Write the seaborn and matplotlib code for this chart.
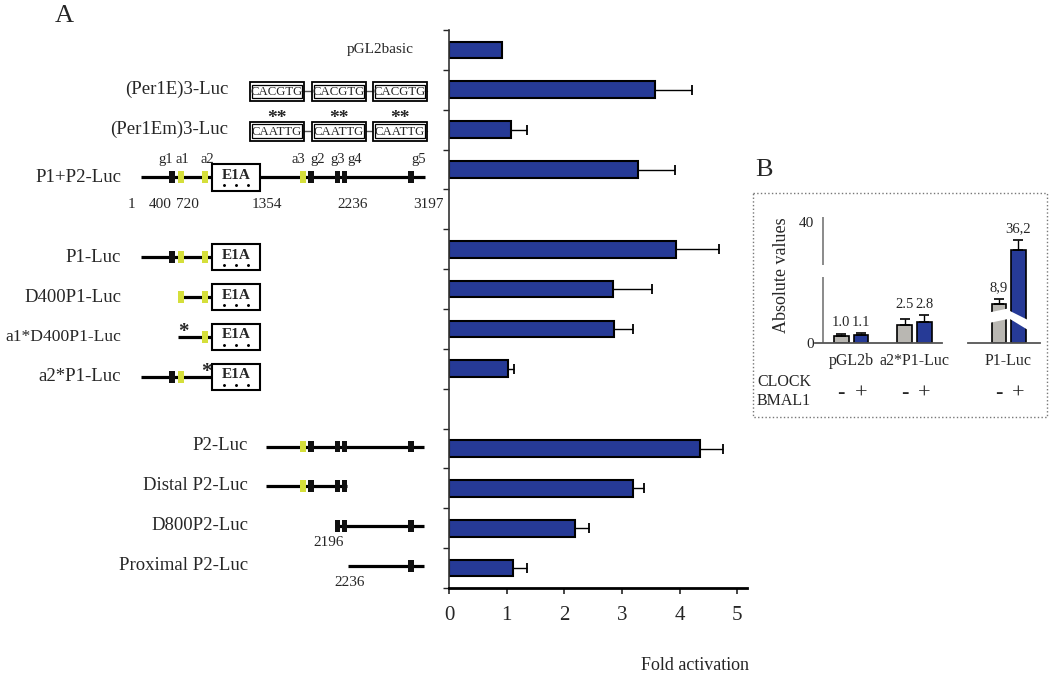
import numpy as np
import pandas as pd
import matplotlib
matplotlib.use("Agg")
import matplotlib.pyplot as plt
import matplotlib.patches as mpatches
from matplotlib.transforms import Affine2D
import seaborn as sns

# ---------------- panel A data ----------------
constructs = ["pGL2basic", "(Per1E)3-Luc", "(Per1Em)3-Luc", "P1+P2-Luc",
              "P1-Luc", "D400P1-Luc", "a1*D400P1-Luc", "a2*P1-Luc",
              "P2-Luc", "Distal P2-Luc", "D800P2-Luc", "Proximal P2-Luc"]
fold = [0.92, 3.58, 1.07, 3.28, 3.94, 2.85, 2.86, 1.02, 4.35, 3.19, 2.18, 1.11]
fold_err = [0.0, 0.64, 0.29, 0.64, 0.74, 0.67, 0.33, 0.11, 0.41, 0.20, 0.25, 0.24]
fold_ticks = [0, 1, 2, 3, 4, 5]
# two empty rows split the constructs into groups
row_order = constructs[:4] + ["gap1"] + constructs[4:8] + ["gap2"] + constructs[8:]

# promoter maps: line span, exon boxes (g), E-box elements (a), E1A reporter
G_X = {"g1": 172, "g2": 311, "g3": 337.5, "g4": 344.5, "g5": 411}
A_X = {"a1": 181, "a2": 205, "a3": 303}
E1A_SPAN = (212, 260)
maps = {
    "P1+P2-Luc": ((141, 425), ["g1", "g2", "g3", "g4", "g5"], ["a1", "a2", "a3"], True),
    "P1-Luc": ((141, 212), ["g1"], ["a1", "a2"], True),
    "D400P1-Luc": ((178, 212), [], ["a1", "a2"], True),
    "a1*D400P1-Luc": ((178, 212), [], ["a2"], True),
    "a2*P1-Luc": ((141, 212), ["g1"], ["a1"], True),
    "P2-Luc": ((266, 424), ["g2", "g3", "g4", "g5"], ["a3"], False),
    "Distal P2-Luc": ((266, 347), ["g2", "g3", "g4"], ["a3"], False),
    "D800P2-Luc": ((335, 424), ["g3", "g4", "g5"], [], False),
    "Proximal P2-Luc": ((348, 424), ["g5"], [], False),
}
mutated = {"a1*D400P1-Luc": 183, "a2*P1-Luc": 206}
ebox_seq = {"(Per1E)3-Luc": "CACGTG", "(Per1Em)3-Luc": "CAATTG"}
ebox_x = [277, 338.5, 400]
tag_labels = [("g1", 166), ("a1", 182), ("a2", 207), ("a3", 298),
              ("g2", 318), ("g3", 338), ("g4", 355), ("g5", 419)]
coord_labels = [("1", 131), ("400", 160), ("720", 187), ("1354", 267),
                ("2236", 353), ("3197", 428)]
start_labels = {"D800P2-Luc": ("2196", 329), "Proximal P2-Luc": ("2236", 350)}

# ---------------- panel B data ----------------
b_constructs = ["pGL2b", "pGL2b", "a2*P1-Luc", "a2*P1-Luc", "P1-Luc", "P1-Luc"]
b_clock = ["-", "+", "-", "+", "-", "+"]
b_values = [1.0, 1.1, 2.5, 2.8, 8.9, 36.2]
b_err = [0.3, 0.3, 0.75, 1.0, 2.5, 1.4]
b_labels = ["1.0", "1.1", "2.5", "2.8", "8,9", "36,2"]
b_yticks = [0, 40]

BLUE = "#263a96"
GRAY = "#b9b7b2"
YELLOW = "#d5df3b"

sns.set_style("white")
plt.rcParams["font.family"] = ["Liberation Serif", "DejaVu Serif"]

W, H = 1050, 674
fig = plt.figure(figsize=(W / 100, H / 100), dpi=100)


def fx(x):
    return x / W


def fy(y):
    return 1 - y / H


px = Affine2D().scale(1 / W, -1 / H).translate(0, 1) + fig.transFigure

# ---------------- panel A bars ----------------
ax = fig.add_axes([fx(449), fy(588), fx(747) - fx(449), fy(30) - fy(588)])
df_a = pd.DataFrame({"construct": constructs, "fold": fold, "err": fold_err})
sns.barplot(data=df_a, x="fold", y="construct", order=row_order, orient="h",
            color=BLUE, saturation=1, edgecolor="black", linewidth=1.5,
            width=0.42, ax=ax)
for name, v, e in zip(constructs, fold, fold_err):
    if e > 0:
        ax.errorbar(v, row_order.index(name), xerr=[[0], [e]], fmt="none",
                    ecolor="black", elinewidth=1, capsize=3.5, capthick=1.3)
ax.set_xlim(0, 5.17)
ax.set_yticks(np.arange(-0.5, len(row_order)))
ax.set_yticklabels([])
ax.set_ylim(len(row_order) - 0.5, -0.5)
ax.set_xticks(fold_ticks)
ax.set_xlabel("")
ax.set_ylabel("")
ax.tick_params(axis="y", length=4, width=1, direction="out", left=True)
ax.tick_params(axis="x", length=4, width=1.2, direction="out", bottom=True,
               labelsize=15, pad=9)
for s in ["top", "right"]:
    ax.spines[s].set_visible(False)
ax.spines["left"].set_linewidth(1.2)
ax.spines["left"].set_color("#333333")
ax.spines["bottom"].set_linewidth(2)
ax.spines["bottom"].set_color("black")
fig.text(fx(695), fy(665), "Fold activation", ha="center", va="center", fontsize=13)

# ---------------- panel A construct maps ----------------
axd = fig.add_axes([0, fy(588), fx(449), fy(30) - fy(588)])
axd.set_xlim(0, 449)
axd.set_ylim(len(row_order) - 0.5, -0.5)
axd.axis("off")

for name in constructs:
    r = row_order.index(name)
    if name == "pGL2basic":
        axd.text(380, r, name, ha="center", va="center", fontsize=11)
        continue
    if name in ebox_seq:
        axd.text(228, r, name, ha="right", va="center", fontsize=13.5)
        yb = r + 0.04
        axd.plot([250, 427], [yb, yb], color="#555555", lw=1, zorder=1)
        for cx in ebox_x:
            axd.add_patch(mpatches.Rectangle((cx - 27, yb - 0.235), 54, 0.47,
                                             fc="white", ec="black", lw=1.3, zorder=2))
            axd.add_patch(mpatches.Rectangle((cx - 25, yb - 0.17), 50, 0.34,
                                             fc="none", ec="black", lw=0.9, zorder=3))
            axd.text(cx, yb + 0.01, ebox_seq[name], ha="center", va="center",
                     fontsize=9.2, zorder=4)
            if name == "(Per1Em)3-Luc":
                axd.text(cx, r - 0.27, "**", ha="center", va="center",
                         fontsize=14, fontweight="bold")
        continue
    in_p1 = 3 <= r <= 8
    if in_p1:
        yl = r + 0.2
        # the longest name is shrunk a little so it stays inside the figure
        axd.text(121, yl, name, ha="right", va="center",
                 fontsize=12.6 if len(name) > 12 else 13.5)
    else:
        yl = r - 0.05
        axd.text(248, r - 0.07, name, ha="right", va="center", fontsize=13.5)
    span, gs, els, e1a = maps[name]
    axd.plot(span, [yl, yl], color="black", lw=2.3, solid_capstyle="butt", zorder=1)
    for g in gs:
        axd.add_patch(mpatches.Rectangle((G_X[g] - 2.6, yl - 0.15), 5.2, 0.3,
                                         fc="#111111", ec="none", zorder=2))
    for a in els:
        axd.add_patch(mpatches.Rectangle((A_X[a] - 3.2, yl - 0.15), 6.4, 0.3,
                                         fc=YELLOW, ec="none", zorder=2))
    if e1a:
        x0, x1 = E1A_SPAN
        axd.add_patch(mpatches.Rectangle((x0, yl - 0.33), x1 - x0, 0.66,
                                         fc="white", ec="black", lw=1.5, zorder=3))
        axd.text((x0 + x1) / 2, yl - 0.05, "E1A", ha="center", va="center",
                 fontsize=11, fontweight="bold", zorder=4)
        # dotted underline of the reporter box
        axd.plot([x0 + 12, x0 + 24, x0 + 36], [yl + 0.2] * 3, ls="none", marker="o",
                 ms=1.1, color="black", zorder=4)
    if name in mutated:
        axd.text(mutated[name], yl - 0.12, "*", ha="center", va="center",
                 fontsize=15, fontweight="bold")
    if name == "P1+P2-Luc":
        for t, x in tag_labels:
            axd.text(x, yl - 0.45, t, ha="center", va="center", fontsize=10.5)
        for t, x in coord_labels:
            axd.text(x, yl + 0.68, t, ha="center", va="center", fontsize=11)
    if name in start_labels:
        t, x = start_labels[name]
        axd.text(x, yl + 0.4, t, ha="center", va="center", fontsize=11)

fig.text(fx(64), fy(16), "A", ha="center", va="center", fontsize=19)

# ---------------- panel B ----------------
fig.text(fx(764), fy(170), "B", ha="center", va="center", fontsize=19)
fig.add_artist(mpatches.Rectangle((752.7, 193.3), 294.3, 223.4, transform=px,
                                  fill=False, ls=":", lw=1, ec="#777777"))

# the picture's y scale is stretched at the bottom and top
scale_v = [0, 4, 36.2, 40, 44]
scale_p = [0, 30, 93.3, 121.6, 151.4]


def fwd(v):
    return np.interp(v, scale_v, scale_p)


def inv(p):
    return np.interp(p, scale_p, scale_v)


df_b = pd.DataFrame({"construct": b_constructs, "clock": b_clock, "value": b_values,
                     "err": b_err, "label": b_labels})
ax_bl = fig.add_axes([fx(815), fy(343.3), fx(941.7) - fx(815), fy(217.3) - fy(343.3)])
ax_br = fig.add_axes([fx(968), fy(343.3), fx(1040) - fx(968), fy(217.3) - fy(343.3)])
sub_sets = [(ax_bl, ["pGL2b", "a2*P1-Luc"], (-0.57, 1.43), True),
            (ax_br, ["P1-Luc"], (-0.641, 0.496), False)]
for axb, cats, xl, shared in sub_sets:
    sub = df_b[df_b["construct"].isin(cats)].reset_index(drop=True)
    sns.barplot(data=sub, x="construct", y="value", hue="clock", order=cats,
                hue_order=["-", "+"], palette=[GRAY, BLUE], saturation=1,
                width=0.62, gap=0.26, edgecolor="black", linewidth=1.2,
                legend=False, ax=axb)
    axb.set_yscale("function", functions=(fwd, inv))
    axb.set_ylim(0, 40.6)
    axb.set_xlim(*xl)
    bars = sorted(axb.patches, key=lambda p: p.get_x())
    keys = sorted(range(len(sub)), key=lambda i: (cats.index(sub.loc[i, "construct"]),
                                                  ["-", "+"].index(sub.loc[i, "clock"])))
    for p, i in zip(bars, keys):
        cx = p.get_x() + p.get_width() / 2
        v, e = sub.loc[i, "value"], sub.loc[i, "err"]
        axb.errorbar(cx, v, yerr=[[0], [e]], fmt="none", ecolor="black",
                     elinewidth=1, capsize=3.5, capthick=1.2)
        if shared:
            grp = sub[sub["construct"] == sub.loc[i, "construct"]]
            top = (grp["value"] + grp["err"]).max()
        else:
            top = v + e
        axb.annotate(sub.loc[i, "label"], (cx, top), xytext=(0, 3),
                     textcoords="offset points", ha="center", va="bottom", fontsize=10.5)
        axb.text(cx, -0.4, sub.loc[i, "clock"], transform=axb.get_xaxis_transform(),
                 ha="center", va="center", fontsize=16)
    axb.set_xlabel("")
    axb.set_ylabel("")
    axb.tick_params(axis="x", length=0, labelsize=11.5, pad=7)
    for s in ["top", "right", "left"]:
        axb.spines[s].set_visible(False)
    axb.spines["bottom"].set_color("#555555")
    axb.spines["bottom"].set_linewidth(1.3)

ax_bl.set_yticks(b_yticks)
ax_bl.tick_params(axis="y", length=0, labelsize=11, pad=1)
ax_br.set_yticks([])
# broken y axis
yax_x = 8.3 / 126.7
ax_bl.vlines([yax_x, yax_x], [0, 28.6], [22.6, 40.6], transform=ax_bl.get_yaxis_transform(),
             color="#777777", lw=1.2, clip_on=False)

fig.text(fx(781.7), fy(275.3), "Absolute values", rotation=90, ha="center",
         va="center", fontsize=13)
fig.text(fx(757), fy(382.3), "CLOCK", ha="left", va="center", fontsize=11.5)
fig.text(fx(757), fy(400.7), "BMAL1", ha="left", va="center", fontsize=11.5)

# white break marks across the P1-Luc bars
fig.add_artist(mpatches.Polygon([(989, 312.5), (1008, 308.5), (1008, 319), (989, 323)],
                                closed=True, transform=px, fc="white", ec="none", zorder=10))
fig.add_artist(mpatches.Polygon([(1010, 311), (1028, 320), (1028, 330), (1010, 319)],
                                closed=True, transform=px, fc="white", ec="none", zorder=10))

fig.savefig("out.png", dpi=100)
